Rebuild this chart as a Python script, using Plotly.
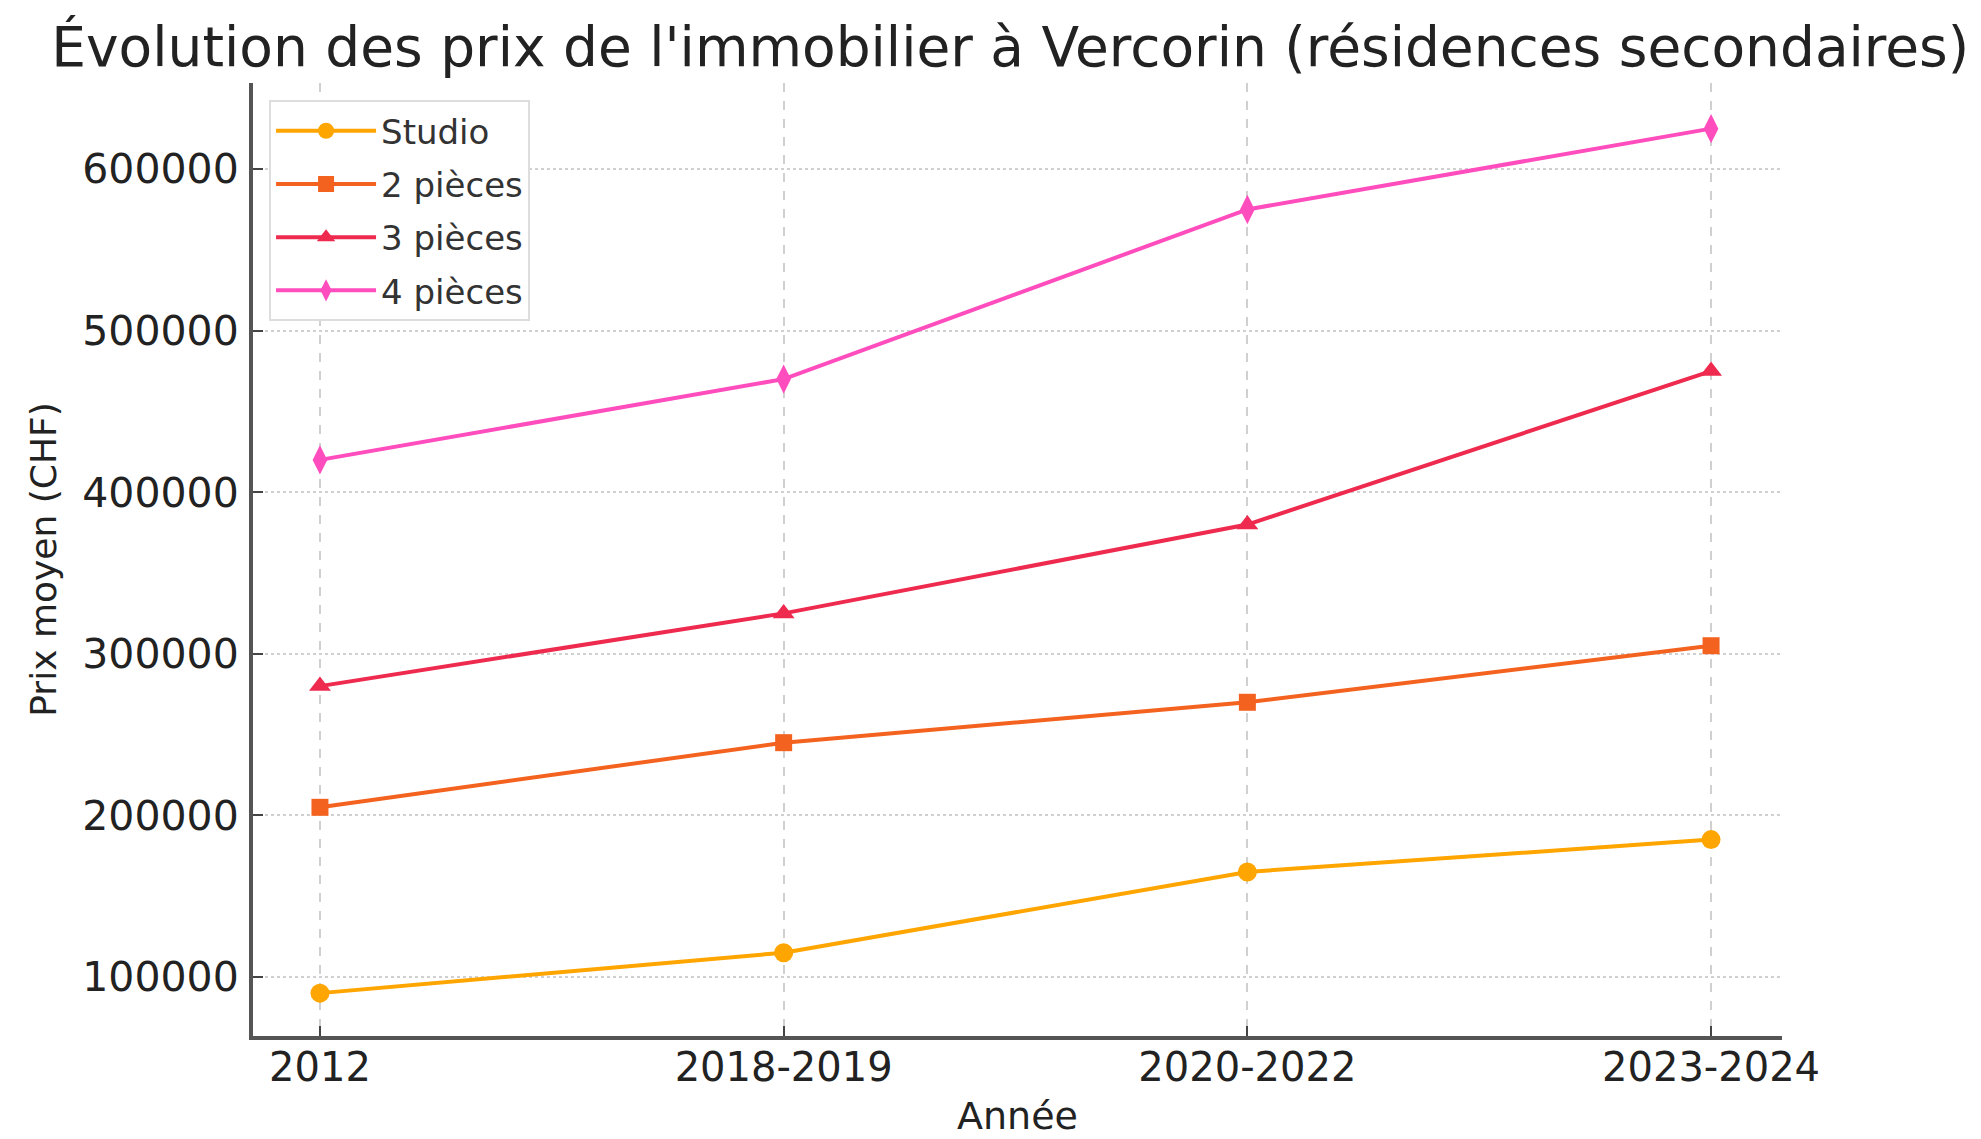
import plotly.graph_objects as go

categories = ["2012", "2018-2019", "2020-2022", "2023-2024"]
studio = [90000, 115000, 165000, 185000]
deux_pieces = [205000, 245000, 270000, 305000]
trois_pieces = [280000, 325000, 380000, 475000]
quatre_pieces = [420000, 470000, 575000, 625000]
series_names = ["Studio", "2 pièces", "3 pièces", "4 pièces"]
y_ticks = [100000, 200000, 300000, 400000, 500000, 600000]

colors = ["#FFA500", "#F4621F", "#EE2A4E", "#FF4DBE"]
symbols = ["circle", "square", "triangle-up", "diamond-tall"]
sizes = [19, 17, 19, 21]

fig = go.Figure()
for i, (name, vals, c, s, sz) in enumerate(zip(series_names, [studio, deux_pieces, trois_pieces, quatre_pieces], colors, symbols, sizes)):
    fig.add_trace(go.Scatter(
        x=list(range(len(categories))), y=vals, name=name, mode="lines+markers",
        legendgroup=f"g{i}",
        line=dict(color=c, width=4),
        marker=dict(symbol=s, size=sz, color=c),
    ))

font_family = "DejaVu Sans"
fig.update_layout(
    width=1973, height=1131,
    paper_bgcolor="white", plot_bgcolor="white",
    margin=dict(l=245, r=199, t=75, b=103),
    font=dict(family=font_family, color="#222222"),
    title=dict(text="Évolution des prix de l'immobilier à Vercorin (résidences secondaires)",
               x=0.508, xanchor="center", y=0.966, yanchor="middle",
               font=dict(size=55, family=font_family, color="#222222")),
    showlegend=True,
    legend=dict(x=0.0105, y=0.982, xanchor="left", yanchor="top",
                bgcolor="white", bordercolor="#DDDDDD", borderwidth=2,
                font=dict(size=34, family=font_family, color="#333333"),
                itemwidth=100, tracegroupgap=6),
)
fig.update_xaxes(
    tickmode="array", tickvals=list(range(len(categories))), ticktext=categories,
    range=[-0.1444, 3.153], automargin=False,
    showline=True, linecolor="#555555", linewidth=4, mirror=False,
    ticks="inside", ticklen=10, tickwidth=2, tickcolor="#444444",
    ticklabelstandoff=-7,
    showgrid=True, gridcolor="#D0D0D0", griddash="dash", gridwidth=1.5,
    tickfont=dict(size=40, color="#222222"),
    title=dict(text="Année", font=dict(size=38, color="#222222"), standoff=14),
    zeroline=False,
)
fig.update_yaxes(
    range=[63470, 653250], tickmode="array", tickvals=y_ticks,
    ticktext=[str(v) for v in y_ticks], automargin=False,
    showline=True, linecolor="#555555", linewidth=4,
    ticks="inside", ticklen=10, tickwidth=2, tickcolor="#444444",
    ticklabelstandoff=2,
    showgrid=True, gridcolor="#D0D0D0", griddash="dot", gridwidth=1.5,
    tickfont=dict(size=41, color="#222222"),
    title=dict(text="Prix moyen (CHF)", font=dict(size=36, color="#222222"), standoff=16),
    zeroline=False,
)

fig.write_html("out.html")
